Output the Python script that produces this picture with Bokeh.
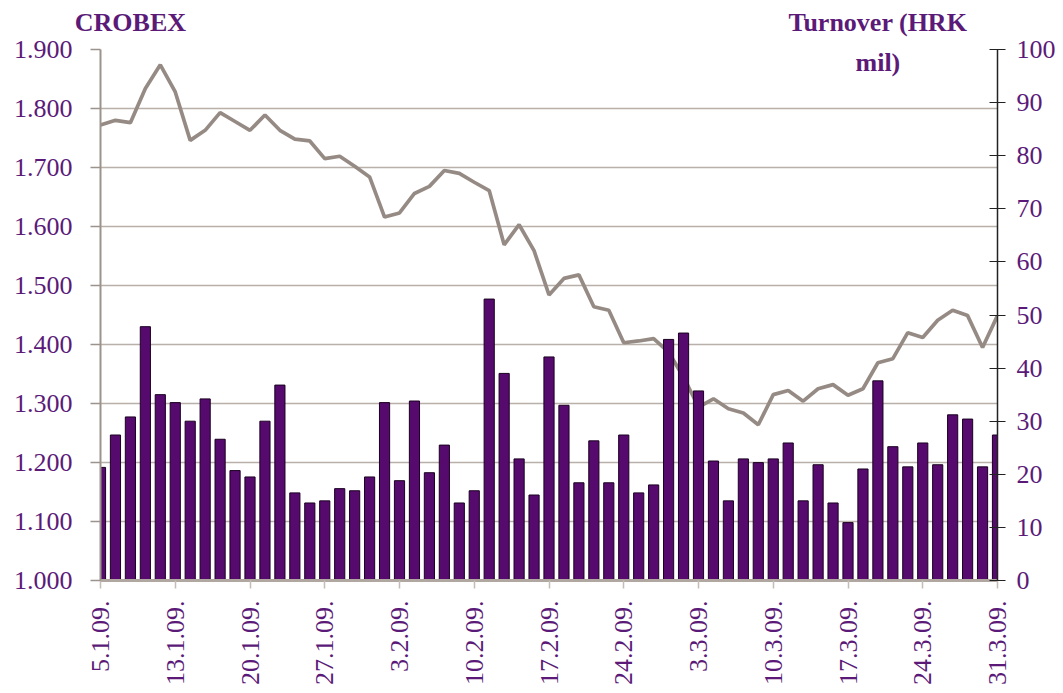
import math
from bokeh.plotting import figure
from bokeh.models import Range1d, LinearAxis, FixedTicker, Label
from bokeh.embed import file_html
from bokeh.resources import INLINE

# Daily turnover (HRK mil), one value per trading day 5.1.09 - 31.3.09
turnover = [21.3, 27.4, 30.8, 47.8, 35.0, 33.5, 30.0, 34.2, 26.6, 20.7,
            19.5, 30.0, 36.8, 16.5, 14.6, 15.0, 17.3, 16.9, 19.5, 33.5,
            18.8, 33.8, 20.3, 25.5, 14.6, 16.9, 53.0, 39.0, 22.9, 16.1,
            42.1, 33.0, 18.4, 26.3, 18.4, 27.4, 16.5, 18.0, 45.4, 46.6,
            35.7, 22.5, 15.0, 22.9, 22.2, 22.9, 25.9, 15.0, 21.8, 14.6,
            10.9, 21.0, 37.6, 25.2, 21.4, 25.9, 21.8, 31.2, 30.4, 21.4,
            27.4]

# CROBEX index, one value per trading day
crobex = [1772, 1780, 1776, 1834, 1874, 1828, 1746, 1763, 1793, 1778,
          1763, 1789, 1763, 1748, 1745, 1715, 1719, 1702, 1684, 1616,
          1623, 1656, 1668, 1695, 1690, 1675, 1661, 1569, 1603, 1559,
          1484, 1512, 1518, 1464, 1458, 1403, 1406, 1410, 1387, 1345,
          1294, 1308, 1291, 1284, 1264, 1315, 1322, 1304, 1325, 1332,
          1314, 1325, 1369, 1376, 1420, 1412, 1441, 1458, 1449, 1395,
          1449]

tick_labels = ["5.1.09.", "13.1.09.", "20.1.09.", "27.1.09.", "3.2.09.",
               "10.2.09.", "17.2.09.", "24.2.09.", "3.3.09.", "10.3.09.",
               "17.3.09.", "24.3.09.", "31.3.09."]
tick_every = 5  # a label every 5th trading day

crobex_ticks = list(range(1000, 1901, 100))
turnover_ticks = list(range(0, 101, 10))

x = list(range(len(turnover)))
tick_pos = [i * tick_every for i in range(len(tick_labels))]

PURPLE_TXT = "#5B1A78"
FONT = "Liberation Serif"
FS = "26px"

p = figure(width=1063, height=693, output_backend="svg", toolbar_location=None,
           x_range=Range1d(0, len(x) - 1), y_range=Range1d(1000, 1900),
           min_border_left=100, min_border_right=66, min_border_top=49,
           min_border_bottom=113)
p.title.visible = False
p.outline_line_color = None
p.background_fill_color = "white"
p.border_fill_color = "white"
p.extra_y_ranges = {"turn": Range1d(0, 100)}

# CROBEX line (drawn first; bars sit on top of it)
p.line(x, crobex, line_color="#968B84", line_width=3.7)

# Turnover bars
p.vbar(x=x, top=turnover, bottom=0, width=0.68, y_range_name="turn",
       fill_color="#560A6E", line_color="#1a0020", line_width=1)

# Grid
p.xgrid.visible = False
p.ygrid.grid_line_color = "#B9B0A9"
p.ygrid.grid_line_width = 1.5

# Left axis
ly = p.yaxis[0]
ly.ticker = FixedTicker(ticks=crobex_ticks)
ly.major_label_overrides = {v: f"{v:,}".replace(",", ".") for v in crobex_ticks}
ly.axis_line_color = "#9C938C"
ly.axis_line_width = 2
ly.major_tick_line_color = "#9C938C"
ly.major_tick_line_width = 1.5
ly.major_tick_out = 10
ly.major_tick_in = 0
ly.minor_tick_line_color = None
ly.major_label_standoff = 18
ly.major_label_text_font = FONT
ly.major_label_text_font_size = FS
ly.major_label_text_color = PURPLE_TXT

# Right axis
ry = LinearAxis(y_range_name="turn", ticker=FixedTicker(ticks=turnover_ticks))
ry.axis_line_color = "#222222"
ry.axis_line_width = 1.5
ry.major_tick_line_color = "#222222"
ry.major_tick_line_width = 1.2
ry.major_tick_out = 8
ry.major_tick_in = 8
ry.minor_tick_line_color = None
ry.major_label_standoff = 11
ry.major_label_text_font = FONT
ry.major_label_text_font_size = FS
ry.major_label_text_color = PURPLE_TXT
p.add_layout(ry, "right")

# Bottom axis
bx = p.xaxis[0]
bx.ticker = FixedTicker(ticks=tick_pos)
bx.major_label_overrides = {pos: lab for pos, lab in zip(tick_pos, tick_labels)}
bx.major_label_orientation = math.pi / 2
bx.axis_line_color = "#B0A7A0"
bx.axis_line_width = 3
bx.major_tick_line_color = "#C4BCB6"
bx.major_tick_line_width = 1.5
bx.major_tick_out = 8
bx.major_tick_in = 0
bx.minor_tick_line_color = None
bx.major_label_standoff = 12
bx.major_label_text_font = FONT
bx.major_label_text_font_size = FS
bx.major_label_text_color = PURPLE_TXT

# Axis titles over the plot: drawn as labels of a bare axis above the frame
title_pos = {2: "CROBEX", 52: "Turnover (HRK"}
tx = LinearAxis(ticker=FixedTicker(ticks=list(title_pos)))
tx.major_label_overrides = title_pos
tx.axis_line_color = None
tx.major_tick_line_color = None
tx.minor_tick_line_color = None
tx.major_tick_out = 0
tx.major_tick_in = 0
tx.major_label_standoff = 13
tx.major_label_text_font = FONT
tx.major_label_text_font_size = FS
tx.major_label_text_font_style = "bold"
tx.major_label_text_color = PURPLE_TXT
p.add_layout(tx, "above")

p.add_layout(Label(x=52, y=1878, text="mil)", text_align="center",
                   text_baseline="alphabetic", text_font=FONT,
                   text_font_size=FS, text_font_style="bold",
                   text_color=PURPLE_TXT))

open("out.html", "w").write(file_html(p, INLINE))
